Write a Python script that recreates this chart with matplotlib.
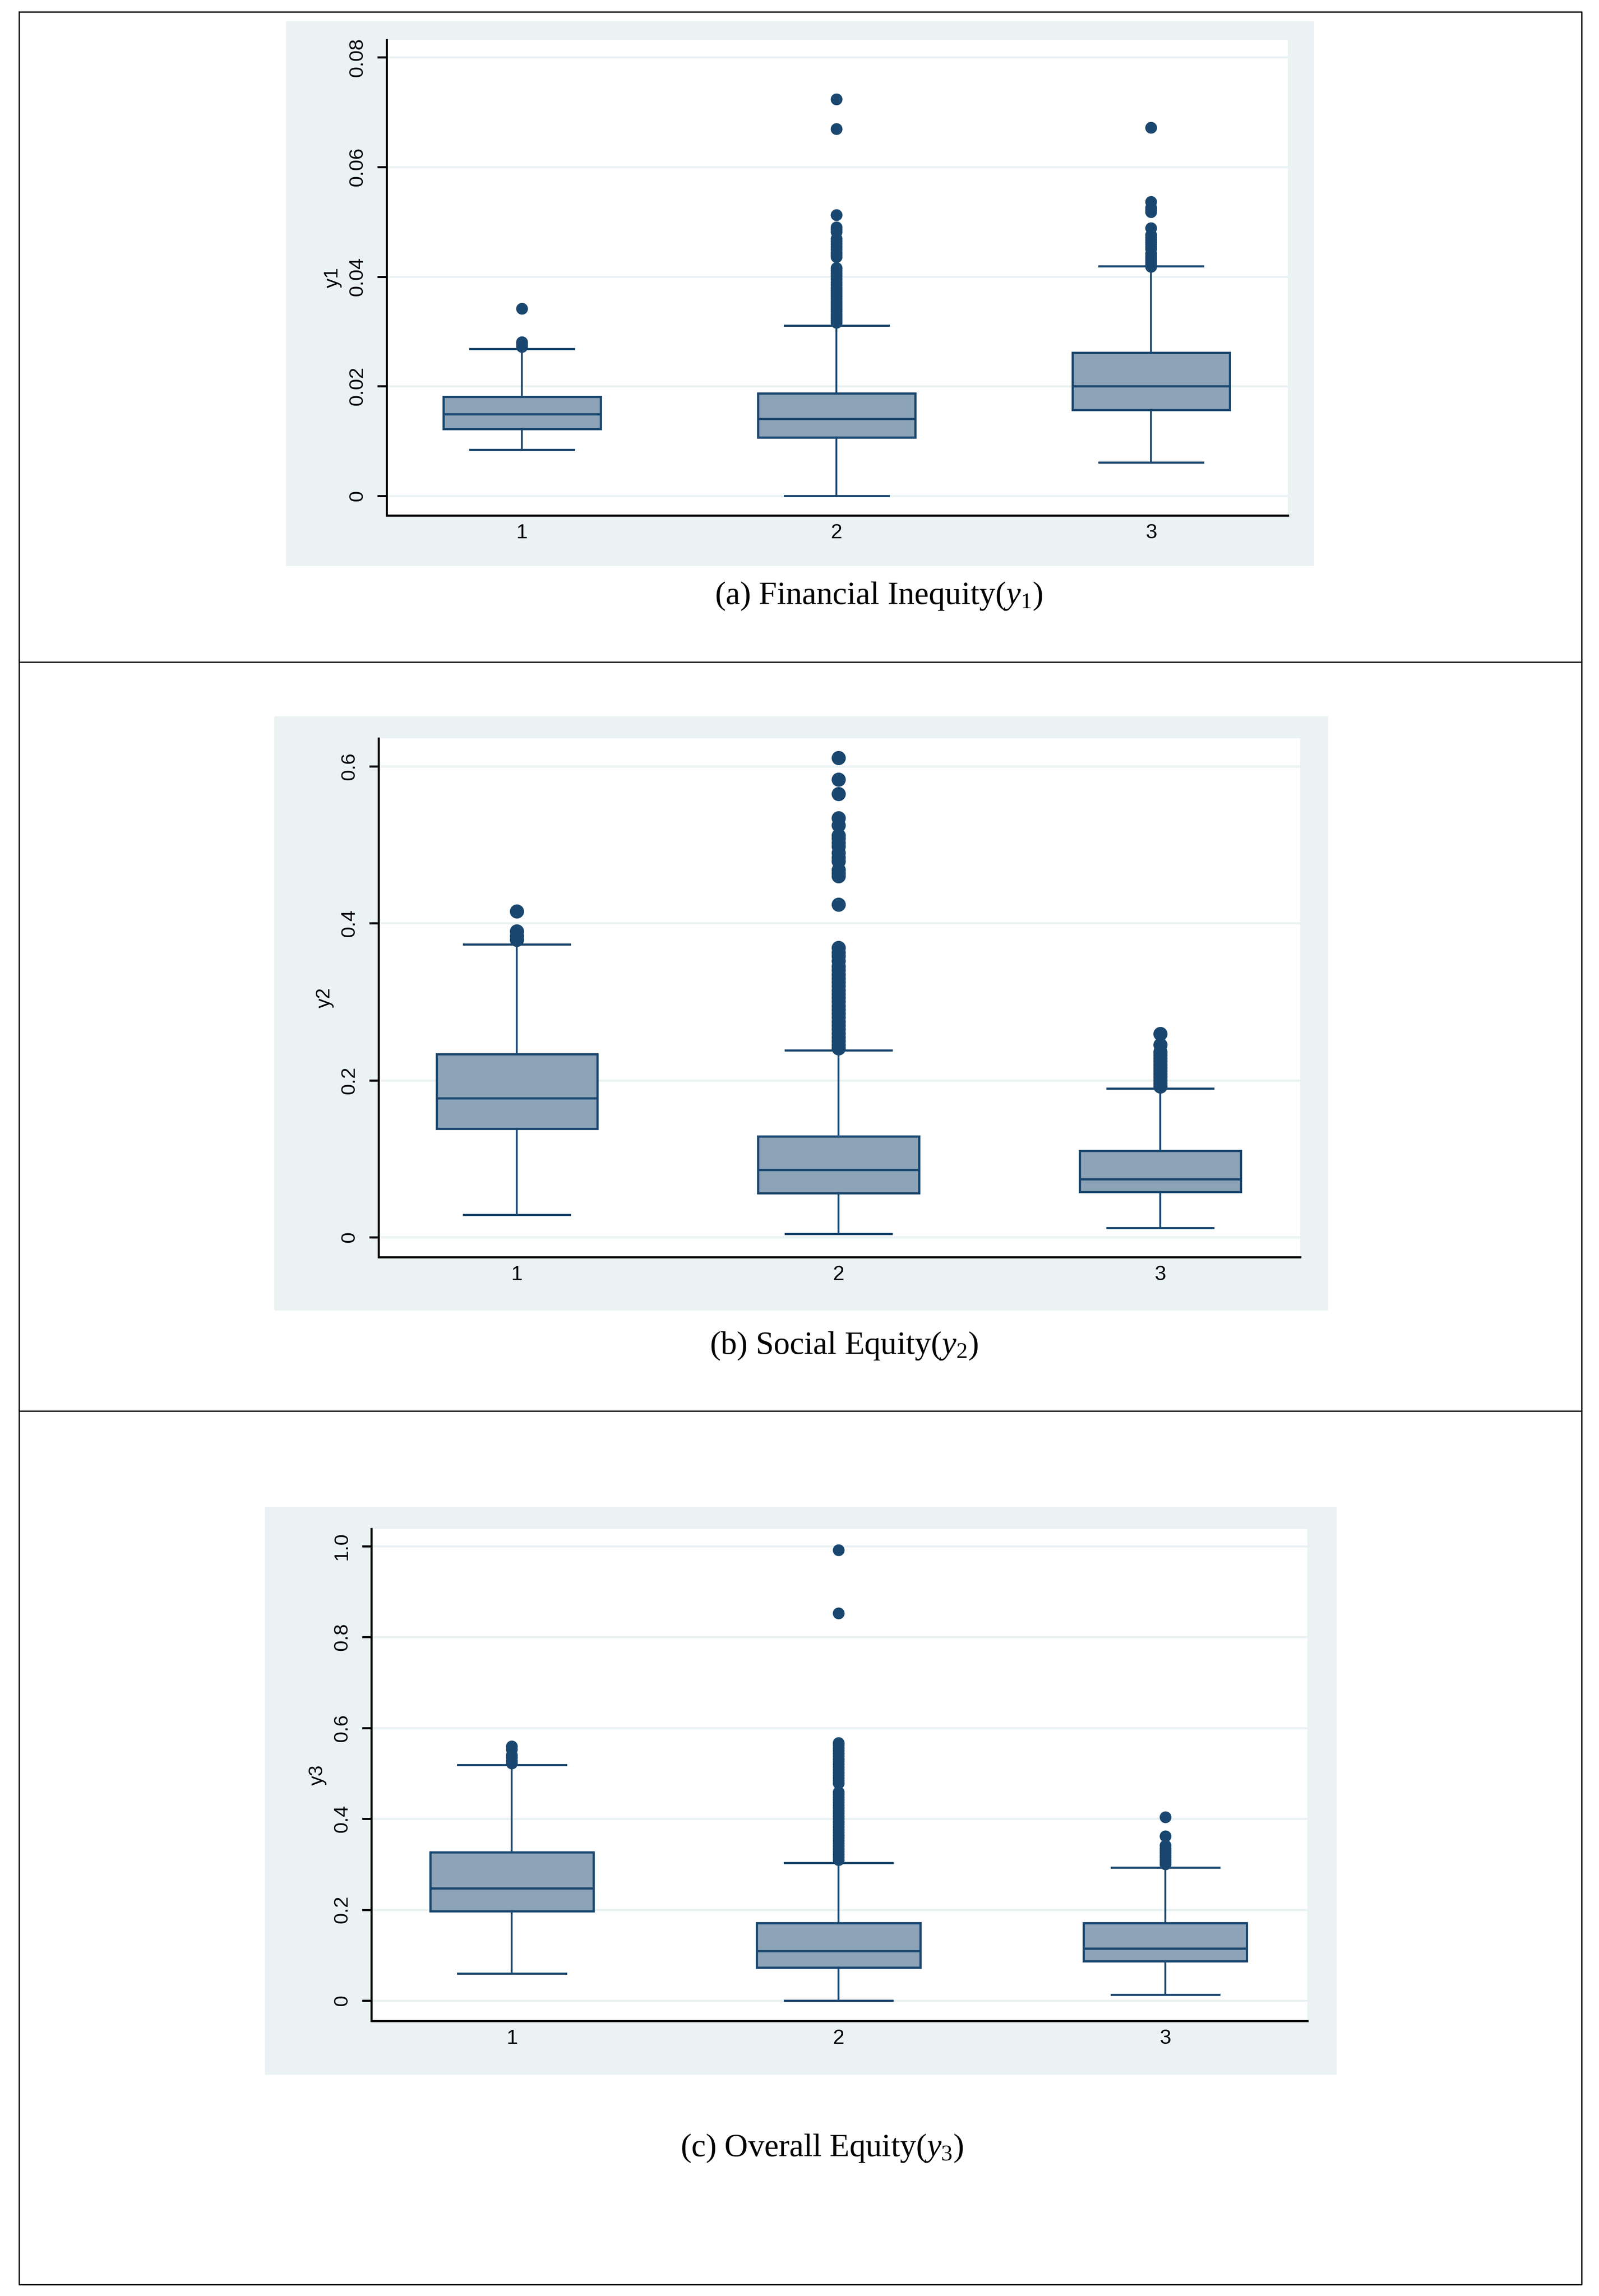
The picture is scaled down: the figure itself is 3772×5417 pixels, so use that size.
import matplotlib
matplotlib.use("Agg")
import matplotlib.pyplot as plt
from matplotlib.patches import Rectangle
from matplotlib.lines import Line2D

plt.rcParams['font.family'] = ['Liberation Sans', 'DejaVu Sans']
plt.rcParams['mathtext.fontset'] = 'custom'
plt.rcParams['mathtext.rm'] = 'Liberation Serif'
plt.rcParams['mathtext.it'] = 'Liberation Serif:italic'

W, H = 3773, 5417

# groups on the x axis
groups = [1, 2, 3]

# (a) Financial Inequity, y1
y1_med = [0.0149, 0.0141, 0.0200]
y1_q1 = [0.0122, 0.0107, 0.0157]
y1_q3 = [0.0181, 0.0187, 0.0261]
y1_lo = [0.0084, 0.0000, 0.0061]
y1_hi = [0.0268, 0.0311, 0.0419]
y1_out = [
    [0.0272, 0.0275, 0.0278, 0.0281, 0.0342],
    [0.0316, 0.0320, 0.0324, 0.0328, 0.0332, 0.0336, 0.0340, 0.0344, 0.0348,
     0.0352, 0.0356, 0.0360, 0.0364, 0.0368, 0.0372, 0.0376, 0.0380, 0.0385,
     0.0390, 0.0396, 0.0401, 0.0406, 0.0411, 0.0416, 0.0436, 0.0440, 0.0444,
     0.0450, 0.0455, 0.0460, 0.0465, 0.0469, 0.0482, 0.0486, 0.0490, 0.0513,
     0.0670, 0.0724],
    [0.0418, 0.0422, 0.0426, 0.0430, 0.0434, 0.0438, 0.0442, 0.0451, 0.0455,
     0.0459, 0.0463, 0.0467, 0.0472, 0.0476, 0.0489, 0.0518, 0.0522, 0.0526,
     0.0537, 0.0672],
]
y1_ticks = [0, 0.02, 0.04, 0.06, 0.08]
y1_ticklabels = ['0', '0.02', '0.04', '0.06', '0.08']

# (b) Social Equity, y2
y2_med = [0.1770, 0.0861, 0.0737]
y2_q1 = [0.1383, 0.0560, 0.0576]
y2_q3 = [0.2335, 0.1286, 0.1103]
y2_lo = [0.0285, 0.0043, 0.0118]
y2_hi = [0.3729, 0.2384, 0.1894]
y2_out = [
    [0.379, 0.384, 0.390, 0.415],
    [0.241, 0.245, 0.250, 0.255, 0.260, 0.265, 0.270, 0.275, 0.280, 0.285,
     0.290, 0.295, 0.300, 0.305, 0.310, 0.315, 0.320, 0.325, 0.330, 0.335,
     0.340, 0.345, 0.352, 0.358, 0.363, 0.369, 0.424, 0.460, 0.464, 0.468,
     0.479, 0.484, 0.490, 0.498, 0.503, 0.508, 0.512, 0.525, 0.534, 0.565,
     0.583, 0.611],
    [0.192, 0.196, 0.200, 0.204, 0.208, 0.212, 0.216, 0.220, 0.224, 0.228,
     0.232, 0.236, 0.245, 0.259],
]
y2_ticks = [0, 0.2, 0.4, 0.6]
y2_ticklabels = ['0', '0.2', '0.4', '0.6']

# (c) Overall Equity, y3
y3_med = [0.2474, 0.1093, 0.1150]
y3_q1 = [0.1966, 0.0729, 0.0863]
y3_q3 = [0.3260, 0.1707, 0.1707]
y3_lo = [0.0594, 0.0000, 0.0134]
y3_hi = [0.5187, 0.3030, 0.2930]
y3_out = [
    [0.522, 0.528, 0.535, 0.540, 0.553, 0.560],
    [0.310, 0.316, 0.322, 0.328, 0.334, 0.340, 0.346, 0.352, 0.358, 0.364,
     0.370, 0.376, 0.382, 0.388, 0.394, 0.400, 0.406, 0.412, 0.418, 0.424,
     0.430, 0.436, 0.442, 0.448, 0.454, 0.459, 0.478, 0.484, 0.490, 0.496,
     0.502, 0.508, 0.514, 0.520, 0.526, 0.532, 0.538, 0.544, 0.550, 0.556,
     0.562, 0.567, 0.852, 0.991],
    [0.300, 0.305, 0.310, 0.315, 0.320, 0.325, 0.330, 0.335, 0.341, 0.362,
     0.404],
]
y3_ticks = [0, 0.2, 0.4, 0.6, 0.8, 1.0]
y3_ticklabels = ['0', '0.2', '0.4', '0.6', '0.8', '1.0']

NAVY = '#1A476F'
FILL = '#8DA3B8'
BG = '#EAF2F3'

panels = [
    dict(med=y1_med, q1=y1_q1, q3=y1_q3, lo=y1_lo, hi=y1_hi, out=y1_out,
         ticks=y1_ticks, labels=y1_ticklabels, ylabel='y1',
         caption=r'(a) Financial Inequity($\mathit{y}_{\mathit{1}}$)',
         grey=(675, 50, 3100, 1335), box=(912, 94, 3038, 1216),
         ylim=(-0.00356, 0.0832), cap=(2073, 1406), ms=20),
    dict(med=y2_med, q1=y2_q1, q3=y2_q3, lo=y2_lo, hi=y2_hi, out=y2_out,
         ticks=y2_ticks, labels=y2_ticklabels, ylabel='y2',
         caption=r'(b) Social Equity($\mathit{y}_{\mathit{2}}$)',
         grey=(647, 1690, 3133, 3092), box=(893, 1742, 3067, 2966),
         ylim=(-0.0254, 0.6356), cap=(1991, 3175), ms=24),
    dict(med=y3_med, q1=y3_q1, q3=y3_q3, lo=y3_lo, hi=y3_hi, out=y3_out,
         ticks=y3_ticks, labels=y3_ticklabels, ylabel='y3',
         caption=r'(c) Overall Equity($\mathit{y}_{\mathit{3}}$)',
         grey=(625, 3555, 3153, 4895), box=(876, 3607, 3084, 4768),
         ylim=(-0.0448, 1.038), cap=(1939, 5068), ms=20),
]


def frac_rect(l, t, r, b):
    return [l / W, 1 - b / H, (r - l) / W, (b - t) / H]


fig = plt.figure(figsize=(W / 100, H / 100), dpi=100)
fig.patch.set_facecolor('white')

for p in panels:
    gl, gt, gr, gb = frac_rect(*p['grey'])
    fig.patches.append(Rectangle((gl, gt), gr, gb, transform=fig.transFigure,
                                 facecolor=BG, edgecolor='none', zorder=-1))

    ax = fig.add_axes(frac_rect(*p['box']))
    ax.set_facecolor('white')

    stats = []
    for i in range(len(groups)):
        stats.append(dict(med=p['med'][i], q1=p['q1'][i], q3=p['q3'][i],
                          whislo=p['lo'][i], whishi=p['hi'][i],
                          fliers=p['out'][i]))

    ax.bxp(stats, positions=groups, widths=0.5, capwidths=0.33,
           patch_artist=True,
           boxprops=dict(facecolor=FILL, edgecolor=NAVY, linewidth=3.8),
           whiskerprops=dict(color=NAVY, linewidth=3.2),
           capprops=dict(color=NAVY, linewidth=3.6),
           medianprops=dict(color=NAVY, linewidth=3.8),
           flierprops=dict(marker='o', markerfacecolor=NAVY,
                           markeredgecolor=NAVY, markeredgewidth=0,
                           markersize=p['ms'], linestyle='none'))

    ax.set_xlim(0.57, 3.435)
    ax.set_ylim(*p['ylim'])
    ax.set_xticks(groups)
    ax.set_xticklabels([str(g) for g in groups])
    ax.set_yticks(p['ticks'])
    ax.set_yticklabels(p['labels'], rotation=90, va='center')

    ax.yaxis.grid(True, color=BG, linewidth=3.6)
    ax.set_axisbelow(True)
    for side in ['top', 'right']:
        ax.spines[side].set_visible(False)
    for side in ['left', 'bottom']:
        ax.spines[side].set_color('black')
        ax.spines[side].set_linewidth(3.6)

    ax.tick_params(axis='y', length=16, width=3.6, pad=18, labelsize=34)
    ax.tick_params(axis='x', length=0, pad=14, labelsize=35)
    ax.set_ylabel(p['ylabel'], fontsize=33, labelpad=10)

    cx, cy = p['cap']
    fig.text(cx / W, 1 - cy / H, p['caption'], ha='center', va='center',
             fontsize=55, family='Liberation Serif')

# outer frame and separators
frame_x = [45, 3731, 3731, 45, 45]
frame_y = [28, 28, 5390, 5390, 28]
fig.add_artist(Line2D([x / W for x in frame_x], [1 - y / H for y in frame_y],
                      transform=fig.transFigure, color='black', linewidth=2.2))
for sep in [1562, 3329]:
    fig.add_artist(Line2D([45 / W, 3731 / W], [1 - sep / H, 1 - sep / H],
                          transform=fig.transFigure, color='black',
                          linewidth=2.2))

fig.savefig('out.png', dpi=100)
